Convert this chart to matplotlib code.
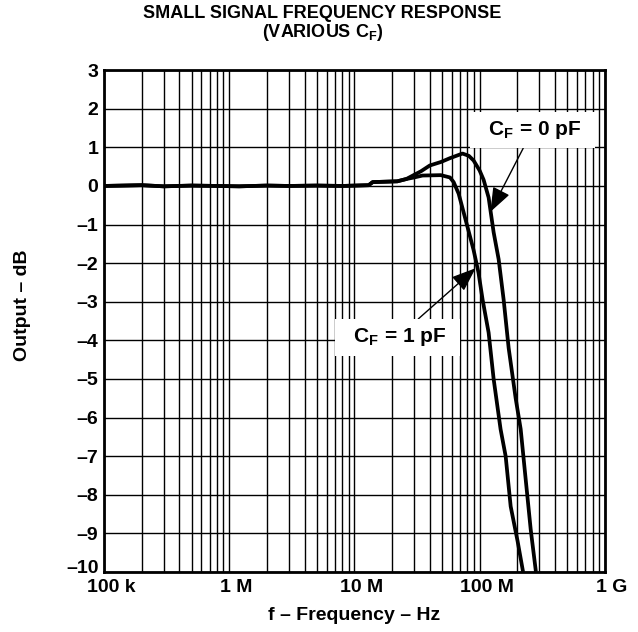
import numpy as np
import matplotlib.pyplot as plt
import matplotlib.transforms as mtransforms
from matplotlib.ticker import FixedLocator, LogLocator, NullFormatter

plt.rcParams['font.family'] = ['Liberation Sans', 'DejaVu Sans']
plt.rcParams['font.weight'] = 'bold'
plt.rcParams['mathtext.fontset'] = 'custom'
plt.rcParams['mathtext.rm'] = 'Liberation Sans:bold'
plt.rcParams['mathtext.it'] = 'Liberation Sans:bold'
plt.rcParams['mathtext.default'] = 'rm'

# shared flat part (Hz, dB)
flat_f = [1e5, 2e5, 3e5, 5e5, 8e5, 1.2e6, 2e6, 3e6, 5e6, 8e6, 1.3e7, 1.4e7, 2.2e7]
flat_db = [0.0, 0.02, -0.01, 0.01, 0.0, -0.01, 0.01, 0.0, 0.01, 0.0, 0.02, 0.1, 0.12]

# C_F = 1 pF
cf1_f = [2.6e7, 3.0e7, 3.5e7, 4.9e7, 5.8e7, 6.2e7, 6.8e7, 8.0e7, 8.95e7, 9.8e7, 1.057e8,
         1.18e8, 1.294e8, 1.47e8, 1.614e8, 1.77e8, 2.01e8, 2.21e8]
cf1_db = [0.18, 0.22, 0.27, 0.28, 0.22, 0.1, -0.2, -1.06, -1.66, -2.25, -2.95,
          -3.8, -5.0, -6.3, -7.0, -8.3, -9.2, -9.95]

# C_F = 0 pF
cf0_f = [2.6e7, 2.97e7, 3.4e7, 4.0e7, 4.9e7, 5.8e7, 7.3e7, 8.2e7, 8.95e7, 1.0e8, 1.076e8,
         1.18e8, 1.294e8, 1.419e8, 1.556e8, 1.706e8, 1.94e8, 2.128e8, 2.333e8, 2.559e8, 2.805e8]
cf0_db = [0.18, 0.28, 0.38, 0.53, 0.62, 0.72, 0.84, 0.78, 0.66, 0.4, 0.16,
          -0.3, -1.2, -1.9, -2.95, -4.2, -5.5, -6.3, -7.6, -8.9, -9.95]

xticks = [1e5, 1e6, 1e7, 1e8, 1e9]
xlabels = ['100 k', '1 M', '10 M', '100 M', '1 G']
yticks = list(range(-10, 4))
ylabels = [('–' + str(-v)) if v < 0 else str(v) for v in yticks]

fig = plt.figure(figsize=(6.38, 6.32), dpi=100)
ax = fig.add_axes([0.163, 0.095, 0.785, 0.794])

f1 = flat_f + cf1_f
d1 = flat_db + cf1_db
f0 = flat_f + cf0_f
d0 = flat_db + cf0_db
ax.plot(f1, d1, color='black', lw=2.7, zorder=3)
ax.plot(f0, d0, color='black', lw=2.7, zorder=3)

ax.set_xscale('log')
ax.set_xlim(1e5, 1e9)
ax.set_ylim(-10, 3)
ax.xaxis.set_major_locator(FixedLocator(xticks))
ax.set_xticklabels(xlabels)
ax.xaxis.set_minor_locator(LogLocator(base=10, subs=np.arange(2, 10)))
ax.xaxis.set_minor_formatter(NullFormatter())
ax.set_yticks(yticks)
ax.set_yticklabels(ylabels)
ax.tick_params(which='both', length=0, labelsize=14)
ax.tick_params(axis='x', pad=5)
ax.tick_params(axis='y', pad=4)
ax.grid(True, which='both', axis='x', color='black', lw=1.0)
ax.grid(True, which='major', axis='y', color='black', lw=1.0)
for s in ax.spines.values():
    s.set_linewidth(2.0)

# x tick labels sit a little right of their grid lines in the original
shift = mtransforms.ScaledTranslation(7 / 100, 0, fig.dpi_scale_trans)
for lab in ax.get_xticklabels():
    lab.set_transform(lab.get_transform() + shift)
# bottom y label is lifted a bit, clear of "100 k"
up = mtransforms.ScaledTranslation(0, 5 / 100, fig.dpi_scale_trans)
lab10 = ax.get_yticklabels()[0]
lab10.set_transform(lab10.get_transform() + up)

ax.set_xlabel('f – Frequency – Hz', fontsize=14, fontweight='bold', labelpad=8)
ax.set_ylabel('Output – dB', fontsize=14, fontweight='bold')
ax.yaxis.set_label_coords(-0.146, 0.532)
fig.text(0.505, 0.962, 'SMALL SIGNAL FREQUENCY RESPONSE\n' + r'(VARIOUS C$_{F}$)',
         ha='center', va='center', fontsize=13, fontweight='bold', linespacing=1.0)

box = dict(boxstyle='square,pad=0.35', fc='white', ec='none')
arrow = dict(arrowstyle='-|>,head_length=1.0,head_width=0.38', color='black', lw=1.0,
             shrinkA=0, shrinkB=0)
ax.annotate(r'  C$_{F}$ = 0 pF  ', xy=(1.22e8, -0.67), xytext=(2.65e8, 1.45),
            ha='center', va='center', fontsize=15, fontweight='bold',
            bbox=box, arrowprops=arrow, zorder=5)
ax.annotate(r'  C$_{F}$ = 1 pF  ', xy=(9.3e7, -2.13), xytext=(2.21e7, -3.92),
            ha='center', va='center', fontsize=15, fontweight='bold',
            bbox=box, arrowprops=arrow, zorder=5)

fig.savefig('out.png', dpi=100)
